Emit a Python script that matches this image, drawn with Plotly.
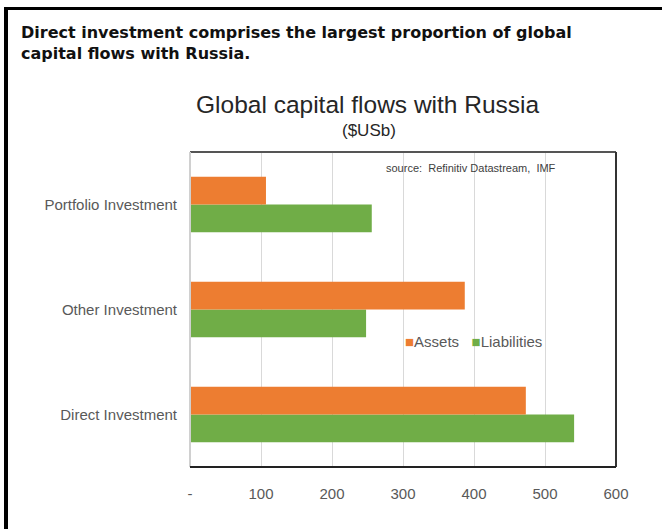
import plotly.graph_objects as go

# Categories listed bottom-to-top as they appear on the horizontal bar axis
categories = ["Direct Investment", "Other Investment", "Portfolio Investment"]
assets = [473, 387, 107]
liabilities = [541, 248, 256]

x_tick_vals = [0, 100, 200, 300, 400, 500, 600]
x_tick_text = ["-", "100", "200", "300", "400", "500", "600"]

ASSET_COLOR = "#ED7D31"
LIAB_COLOR = "#70AD47"

W, H = 662, 529
L, R, T, B = 190, 46, 152, 62
PW, PH = W - L - R, H - T - B

def px(x):
    return (x - L) / PW

def py(y):
    return (H - B - y) / PH

SANS = "Liberation Sans, Arial, sans-serif"
BOLD = "DejaVu Sans, Liberation Sans, Arial, sans-serif"
GREY = "#595959"

fig = go.Figure()
# Liabilities drawn first so each Assets bar sits above it within its group
fig.add_trace(go.Bar(y=categories, x=liabilities, orientation="h", name="Liabilities",
                     marker=dict(color=LIAB_COLOR, line=dict(width=0))))
fig.add_trace(go.Bar(y=categories, x=assets, orientation="h", name="Assets",
                     marker=dict(color=ASSET_COLOR, line=dict(width=0))))

fig.update_layout(
    width=W, height=H,
    margin=dict(l=L, r=R, t=T, b=B),
    paper_bgcolor="white", plot_bgcolor="white",
    barmode="group", bargap=0.47, bargroupgap=0,
    showlegend=False,
    xaxis=dict(range=[0, 600], tickvals=x_tick_vals, ticktext=x_tick_text,
               showgrid=True, gridcolor="#d9d9d9", gridwidth=1,
               zeroline=False, showline=False, ticks="",
               ticklabelstandoff=16,
               tickfont=dict(family=SANS, size=15, color=GREY)),
    yaxis=dict(range=[-0.5, 2.5], showgrid=False, zeroline=False, showline=False,
               ticks="", ticklabelstandoff=12,
               tickfont=dict(family=SANS, size=15, color=GREY)),
    font=dict(family=SANS),
)

shapes = [
    # plot frame
    dict(type="line", xref="paper", yref="paper", x0=0, x1=1, y0=1, y1=1,
         line=dict(color="#555555", width=2)),
    dict(type="line", xref="paper", yref="paper", x0=0, x1=0, y0=0, y1=1,
         line=dict(color="#d0d0d0", width=2)),
    dict(type="line", xref="paper", yref="paper", x0=1, x1=1, y0=0, y1=1,
         line=dict(color="#333333", width=2)),
    dict(type="line", xref="paper", yref="paper", x0=0, x1=1, y0=0, y1=0,
         line=dict(color="#222222", width=2)),
    # page frame
    dict(type="line", xref="paper", yref="paper", x0=px(6), x1=px(6), y0=py(7), y1=py(H + 5),
         line=dict(color="black", width=4)),
    dict(type="line", xref="paper", yref="paper", x0=px(4), x1=px(W + 5), y0=py(8.5), y1=py(8.5),
         line=dict(color="black", width=3)),
]
fig.update_layout(shapes=shapes)

# Legend built from the traces' own names and colours
legend_text = "   ".join(
    f"<span style='color:{t.marker.color}'>■</span>{t.name}" for t in reversed(fig.data)
)

annotations = [
    dict(text="<b>Direct investment comprises the largest proportion of global<br>capital flows with Russia.</b>",
         xref="paper", yref="paper", x=px(19), y=py(21), xanchor="left", yanchor="top",
         align="left", showarrow=False,
         font=dict(family=BOLD, size=16, color="#111111")),
    dict(text="Global capital flows with Russia", xref="paper", yref="paper",
         x=px(368), y=py(104), xanchor="center", yanchor="middle", showarrow=False,
         font=dict(family=SANS, size=24.5, color="#262626")),
    dict(text="($USb)", xref="paper", yref="paper",
         x=px(369), y=py(130), xanchor="center", yanchor="middle", showarrow=False,
         font=dict(family=SANS, size=17, color="#262626")),
    dict(text="source:  Refinitiv Datastream,  IMF", xref="paper", yref="paper",
         x=px(384), y=py(168), xanchor="left", yanchor="middle", showarrow=False,
         font=dict(family=SANS, size=11, color="#404040")),
    dict(text=legend_text, xref="paper", yref="paper",
         x=px(403), y=py(341), xanchor="left", yanchor="middle", showarrow=False,
         font=dict(family=SANS, size=15, color=GREY)),
]
fig.update_layout(annotations=annotations)

fig.write_html("out.html")
